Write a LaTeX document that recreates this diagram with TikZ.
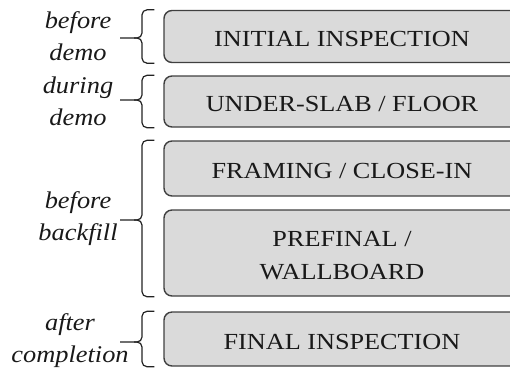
\documentclass[tikz,border=0pt]{standalone}
\usepackage{fontspec}
\setmainfont{Liberation Serif}[FakeStretch=1.14]
\newfontfamily\labfont{Liberation Serif}[FakeStretch=1.1]
\usetikzlibrary{calc}
\definecolor{boxfill}{HTML}{DADADA}
\definecolor{boxline}{HTML}{404040}
\definecolor{braceline}{HTML}{222222}
\begin{document}
\begin{tikzpicture}[x=1pt,y=-1pt,
  box/.style={draw=boxline, fill=boxfill, rounded corners=8pt, line width=1.4pt,
    minimum width=356pt, inner sep=0pt},
  boxtext/.style={font=\fontsize{23}{33}\selectfont, align=center, text=black!90},
  lab/.style={font=\labfont\itshape\fontsize{24}{32}\selectfont, align=center, inner sep=0pt, text=black!90},
  brace/.style={draw=braceline, line width=1.2pt, rounded corners=5pt}]
\useasboundingbox (0,0) rectangle (510,368);
\clip (0,0) rectangle (510,368);
% boxes (centre x = 164 + 178 = 342)
\node[box, minimum height=52pt] (b1) at (342,36.5) {};
\node[box, minimum height=51pt] (b2) at (342,101.5) {};
\node[box, minimum height=55pt] (b3) at (342,168.5) {};
\node[box, minimum height=86pt] (b4) at (342,253) {};
\node[box, minimum height=54pt] (b5) at (342,339) {};
\node[boxtext] (t1) at ($(b1.center)+(0,2.5)$) {INITIAL INSPECTION};
\node[boxtext] (t2) at ($(b2.center)+(0,2.5)$) {UNDER-SLAB / FLOOR};
\node[boxtext] (t3) at ($(b3.center)+(0,2.5)$) {FRAMING / CLOSE-IN};
\node[boxtext] (t4) at ($(b4.center)+(0,2.5)$) {PREFINAL /\\WALLBOARD};
\node[boxtext] (t5) at ($(b5.center)+(0,2.5)$) {FINAL INSPECTION};
% labels
\node[lab] (l1) at (78,36.5) {before\\demo};
\node[lab] (l2) at (78,101.5) {during\\demo};
\node[lab] (l3) at (78,219) {before\\backfill};
\node[lab] (l4) at (70,340.5) {after\\completion};
% brace tips and tails
\coordinate (v1) at (142,38);  \coordinate (k1) at (120,38);
\coordinate (v2) at (142,100); \coordinate (k2) at (120,100);
\coordinate (v3) at (142,220); \coordinate (k3) at (120,220);
\coordinate (v4) at (142,342); \coordinate (k4) at (120,342);
\draw[brace] ($(b1.north west)+(-9,0)$) -| (v1) -- (k1);
\draw[brace] ($(b1.south west)+(-9,0)$) -| (v1) -- ++(-8,0);
\draw[brace] ($(b2.north west)+(-9,0)$) -| (v2) -- (k2);
\draw[brace] ($(b2.south west)+(-9,0)$) -| (v2) -- ++(-8,0);
\draw[brace] ($(b3.north west)+(-9,0)$) -| (v3) -- (k3);
\draw[brace] ($(b4.south west)+(-9,0)$) -| (v3) -- ++(-8,0);
\draw[brace] ($(b5.north west)+(-9,0)$) -| (v4) -- (k4);
\draw[brace] ($(b5.south west)+(-9,0)$) -| (v4) -- ++(-8,0);
\end{tikzpicture}
\end{document}
